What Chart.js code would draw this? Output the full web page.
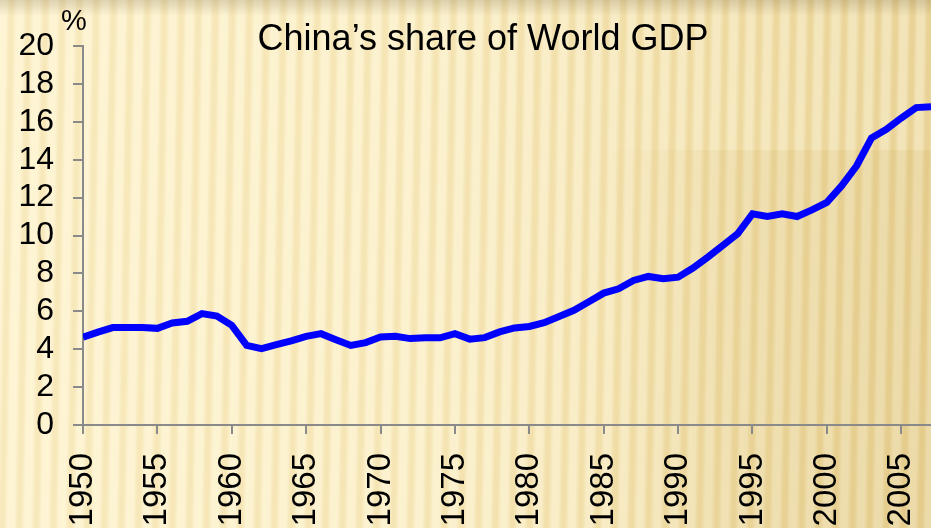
<!DOCTYPE html>
<html>
<head>
<meta charset="utf-8">
<script src="https://cdn.jsdelivr.net/npm/chart.js@4.4.0/dist/chart.umd.min.js"></script>
<style>
  html, body { margin: 0; padding: 0; }
  body {
    width: 931px; height: 528px; overflow: hidden;
    background:
      linear-gradient(to bottom, rgba(110,90,50,0.22) 0px, rgba(110,90,50,0) 16px),
      repeating-linear-gradient(91deg, rgba(255,252,235,0.35) 0px, rgba(255,252,235,0.35) 6px, rgba(215,180,100,0.13) 10px, rgba(215,180,100,0.13) 13px, rgba(255,252,235,0.35) 17px),
      linear-gradient(to right, #fdf1c9 0%, #faecc0 45%, #f2e0ab 75%, #ebd69c 100%);
  }
  #wrap { position: relative; width: 931px; height: 528px; }
  #shade {
    position: absolute; left: 600px; top: 150px; width: 331px; height: 378px;
    background: linear-gradient(to right, rgba(200,165,80,0) 0%, rgba(200,165,80,0.12) 40%, rgba(200,165,80,0.14) 100%);
  }
  canvas { position: absolute; left: 0; top: 0; }
</style>
</head>
<body>
<div id="wrap">
  <div id="shade"></div>
  <canvas id="gdpChart" width="931" height="528"></canvas>
</div>
<script>
// years and China's share of world GDP (%)
const years = [
  1950, 1951, 1952, 1953, 1954, 1955, 1956, 1957, 1958, 1959,
  1960, 1961, 1962, 1963, 1964, 1965, 1966, 1967, 1968, 1969,
  1970, 1971, 1972, 1973, 1974, 1975, 1976, 1977, 1978, 1979,
  1980, 1981, 1982, 1983, 1984, 1985, 1986, 1987, 1988, 1989,
  1990, 1991, 1992, 1993, 1994, 1995, 1996, 1997, 1998, 1999,
  2000, 2001, 2002, 2003, 2004, 2005, 2006, 2007
];
const share = [
  4.63, 4.9, 5.14, 5.14, 5.14, 5.1, 5.38, 5.47, 5.88, 5.75,
  5.26, 4.2, 4.03, 4.24, 4.44, 4.68, 4.82, 4.5, 4.2, 4.35,
  4.65, 4.68, 4.56, 4.6, 4.6, 4.82, 4.53, 4.61, 4.91, 5.12,
  5.2, 5.4, 5.73, 6.05, 6.5, 6.96, 7.19, 7.63, 7.84, 7.72,
  7.8, 8.28, 8.86, 9.47, 10.09, 11.14, 11.0, 11.14, 11.0, 11.35,
  11.75, 12.63, 13.68, 15.14, 15.6, 16.2, 16.75, 16.8
];
const yTicks = [0, 2, 4, 6, 8, 10, 12, 14, 16, 18, 20];
const xTickStep = 5;
const titleText = 'China\u2019s share of World GDP';
const unitText = '%';

const points = years.map((yr, i) => ({ x: yr, y: share[i] }));

// title and unit drawn over the plot, like the slide
const overlayText = {
  id: 'overlayText',
  afterDraw(chart) {
    const ctx = chart.ctx;
    ctx.save();
    ctx.fillStyle = '#000';
    ctx.textAlign = 'center';
    ctx.textBaseline = 'alphabetic';
    ctx.font = '36px "Liberation Sans", Arial, sans-serif';
    ctx.fillText(titleText, 483, 50);
    ctx.font = '29px "Liberation Sans", Arial, sans-serif';
    ctx.fillText(unitText, 74, 30);
    ctx.restore();
  }
};

const axisGrey = '#8a8a8a';
const tickFont = { family: '"Liberation Sans", Arial, sans-serif', size: 32 };

new Chart(document.getElementById('gdpChart'), {
  type: 'line',
  data: {
    datasets: [{
      data: points,
      borderColor: '#0000ff',
      borderWidth: 7,
      pointRadius: 0,
      tension: 0,
      fill: false
    }]
  },
  options: {
    responsive: false,
    animation: false,
    devicePixelRatio: 1,
    layout: { padding: { top: 46, left: 0, right: 0, bottom: 0 } },
    plugins: {
      legend: { display: false },
      title: { display: false },
      tooltip: { enabled: false }
    },
    scales: {
      x: {
        type: 'linear',
        min: years[0],
        max: years[years.length - 1],
        afterFit: (scale) => {
          scale.height = 103;
          scale.paddingLeft = 0;
          scale.paddingRight = 0;
        },
        border: { display: true, color: axisGrey, width: 2 },
        grid: { display: true, drawOnChartArea: false, drawTicks: true, tickLength: 9, color: axisGrey, lineWidth: 2 },
        ticks: {
          stepSize: xTickStep,
          includeBounds: false,
          minRotation: 90,
          maxRotation: 90,
          autoSkip: false,
          padding: 19,
          color: '#000',
          font: { family: tickFont.family, size: 33 },
          callback: (v) => String(v)
        }
      },
      y: {
        min: yTicks[0],
        max: yTicks[yTicks.length - 1],
        afterFit: (scale) => {
          scale.width = 83;
          scale.paddingTop = 0;
          scale.paddingBottom = 0;
        },
        afterBuildTicks: (scale) => { scale.ticks = yTicks.map(v => ({ value: v })); },
        border: { display: true, color: axisGrey, width: 2 },
        grid: { display: true, drawOnChartArea: false, drawTicks: true, tickLength: 10, color: axisGrey, lineWidth: 2 },
        ticks: {
          autoSkip: false,
          padding: 19,
          color: '#000',
          font: tickFont
        }
      }
    }
  },
  plugins: [overlayText]
});
</script>
</body>
</html>
